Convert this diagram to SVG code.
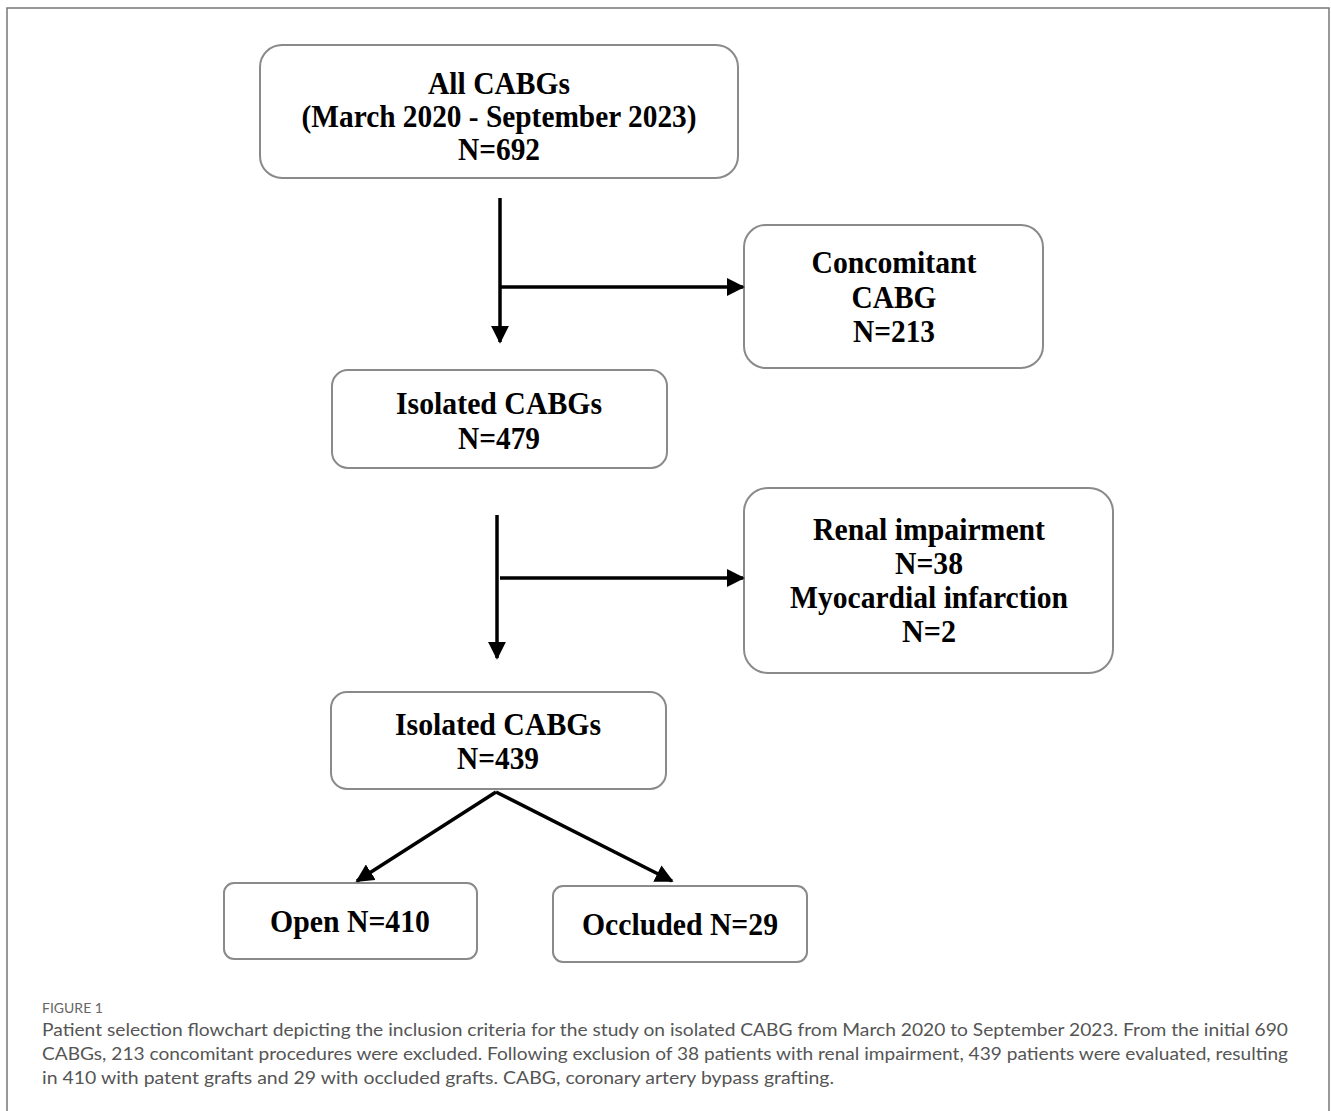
<svg xmlns="http://www.w3.org/2000/svg" width="1331" height="1111" viewBox="0 0 1331 1111">
<style>
.box{fill:#fff;stroke:#8a8a8a;stroke-width:2}
.t{font-family:"Liberation Serif","Times New Roman",serif;font-weight:bold;font-size:32px;fill:#000;text-anchor:middle}
.c{stroke:#000;stroke-width:3.5;fill:none}
.cap{font-family:Lato,"Open Sans",sans-serif;font-size:17px;fill:#555}
.fig{font-family:Lato,"Open Sans",sans-serif;font-size:14px;fill:#666}
</style>
<defs>
<marker id="ah" viewBox="0 0 10 10" refX="9" refY="5" markerWidth="5.2" markerHeight="5.2" markerUnits="strokeWidth" orient="auto">
<path d="M0,0 L10,5 L0,10 Z" fill="#000"/>
</marker>
</defs>
<rect width="1331" height="1111" fill="#fff"/>
<path d="M7,1111 V8 H1329 V1111" fill="none" stroke="#777" stroke-width="1.5"/>

<g id="n1">
<rect class="box" x="260" y="45" width="478" height="133" rx="22"/>
<text class="t" x="499" y="94" textLength="142" lengthAdjust="spacingAndGlyphs">All CABGs</text>
<text class="t" x="499" y="127" textLength="395" lengthAdjust="spacingAndGlyphs">(March 2020 - September 2023)</text>
<text class="t" x="499" y="160" textLength="82" lengthAdjust="spacingAndGlyphs">N=692</text>
</g>
<g id="n2">
<rect class="box" x="744" y="225" width="299" height="143" rx="22"/>
<text class="t" x="894" y="273" textLength="165" lengthAdjust="spacingAndGlyphs">Concomitant</text>
<text class="t" x="894" y="308" textLength="85" lengthAdjust="spacingAndGlyphs">CABG</text>
<text class="t" x="894" y="342" textLength="82" lengthAdjust="spacingAndGlyphs">N=213</text>
</g>
<g id="n3">
<rect class="box" x="332" y="370" width="335" height="98" rx="16"/>
<text class="t" x="499" y="414" textLength="206" lengthAdjust="spacingAndGlyphs">Isolated CABGs</text>
<text class="t" x="499" y="449" textLength="82" lengthAdjust="spacingAndGlyphs">N=479</text>
</g>
<g id="n4">
<rect class="box" x="744" y="488" width="369" height="185" rx="24"/>
<text class="t" x="929" y="540" textLength="232" lengthAdjust="spacingAndGlyphs">Renal impairment</text>
<text class="t" x="929" y="574" textLength="68" lengthAdjust="spacingAndGlyphs">N=38</text>
<text class="t" x="929" y="608" textLength="278" lengthAdjust="spacingAndGlyphs">Myocardial infarction</text>
<text class="t" x="929" y="642" textLength="54" lengthAdjust="spacingAndGlyphs">N=2</text>
</g>
<g id="n5">
<rect class="box" x="331" y="692" width="335" height="97" rx="16"/>
<text class="t" x="498" y="735" textLength="206" lengthAdjust="spacingAndGlyphs">Isolated CABGs</text>
<text class="t" x="498" y="769" textLength="82" lengthAdjust="spacingAndGlyphs">N=439</text>
</g>
<g id="n6">
<rect class="box" x="224" y="883" width="253" height="76" rx="10"/>
<text class="t" x="350" y="932" textLength="160" lengthAdjust="spacingAndGlyphs">Open N=410</text>
</g>
<g id="n7">
<rect class="box" x="553" y="886" width="254" height="76" rx="10"/>
<text class="t" x="680" y="935" textLength="196" lengthAdjust="spacingAndGlyphs">Occluded N=29</text>
</g>

<g id="connectors">
<line class="c" x1="500" y1="198" x2="500" y2="342" marker-end="url(#ah)"/>
<line class="c" x1="500" y1="287" x2="743" y2="287" marker-end="url(#ah)"/>
<line class="c" x1="497" y1="515" x2="497" y2="658" marker-end="url(#ah)"/>
<line class="c" x1="500" y1="578" x2="743" y2="578" marker-end="url(#ah)"/>
<line class="c" x1="496" y1="792" x2="357" y2="881" marker-end="url(#ah)"/>
<line class="c" x1="496" y1="792" x2="672" y2="881" marker-end="url(#ah)"/>
</g>

<text class="fig" x="42" y="1013">FIGURE 1</text>
<text class="cap" x="42" y="1036" textLength="1246" lengthAdjust="spacingAndGlyphs">Patient selection flowchart depicting the inclusion criteria for the study on isolated CABG from March 2020 to September 2023. From the initial 690</text>
<text class="cap" x="42" y="1060" textLength="1246" lengthAdjust="spacingAndGlyphs">CABGs, 213 concomitant procedures were excluded. Following exclusion of 38 patients with renal impairment, 439 patients were evaluated, resulting</text>
<text class="cap" x="42" y="1084" textLength="792" lengthAdjust="spacingAndGlyphs">in 410 with patent grafts and 29 with occluded grafts. CABG, coronary artery bypass grafting.</text>
</svg>
